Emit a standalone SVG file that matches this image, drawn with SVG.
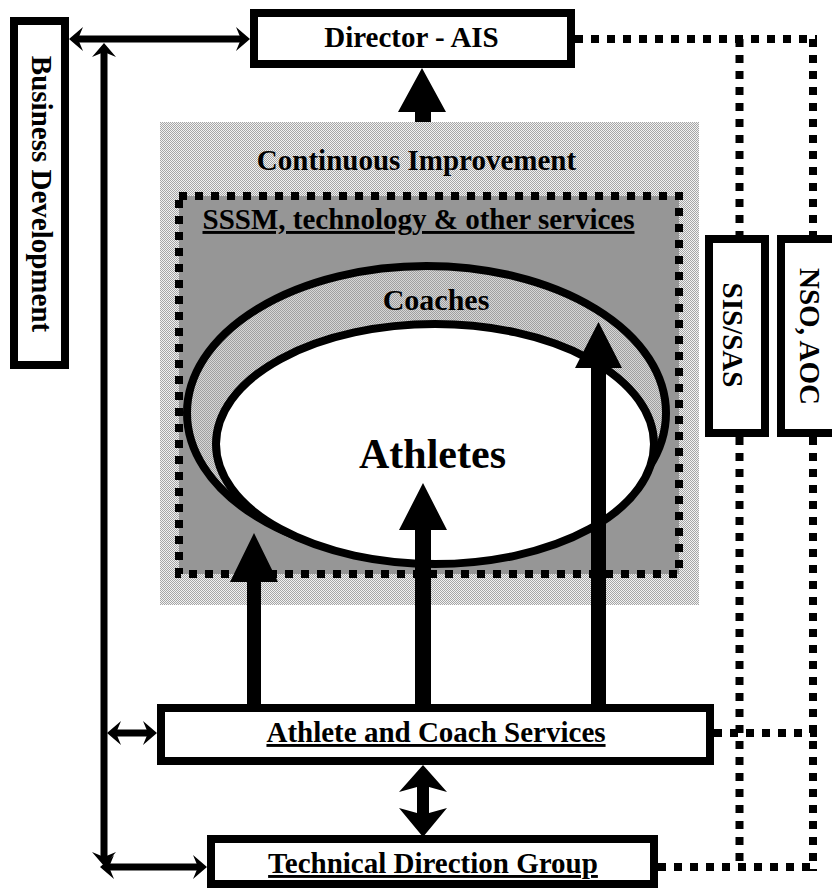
<svg xmlns="http://www.w3.org/2000/svg" width="832" height="891" viewBox="0 0 832 891">
<style>
.t{font-family:"Liberation Serif","Times New Roman",serif;font-weight:bold;font-size:29px;fill:#000;text-anchor:middle}
.u{text-decoration:underline}
.box{fill:#fff;stroke:#000;stroke-width:8}
.dot{fill:none;stroke:#000;stroke-width:8;stroke-dasharray:8 8}
.ln{fill:none;stroke:#000;stroke-width:7;marker-start:url(#ah);marker-end:url(#ah)}
.blk{fill:#000}
</style>
<defs>
<pattern id="stip" width="2" height="2" patternUnits="userSpaceOnUse">
<rect width="2" height="2" fill="#f2f2f2"/><rect width="1" height="1" fill="#a6a6a6"/><rect x="1" y="1" width="1" height="1" fill="#a6a6a6"/>
</pattern>
<pattern id="stip2" width="2" height="2" patternUnits="userSpaceOnUse">
<rect width="2" height="2" fill="#d6d6d6"/><rect width="1" height="1" fill="#a0a0a0"/><rect x="1" y="1" width="1" height="1" fill="#a0a0a0"/>
</pattern>
<marker id="ah" markerUnits="userSpaceOnUse" orient="auto-start-reverse" refX="0" refY="0" markerWidth="40" markerHeight="40" viewBox="-20 -20 40 40" overflow="visible">
<path d="M6,0 L-8,-12 L-3,0 L-8,12 Z" fill="#000"/>
</marker>
</defs>
<rect width="832" height="891" fill="#fff"/>

<g id="continuous-improvement">
<rect x="160" y="122" width="539" height="483" fill="url(#stip)"/>
<text class="t" x="416.5" y="170">Continuous Improvement</text>
</g>

<g id="sssm">
<rect x="179" y="196" width="500" height="378" class="dot" style="fill:#969696"/>
<text class="t u" x="418.5" y="229">SSSM, technology &amp; other services</text>
</g>

<g id="coaches">
<ellipse cx="426.5" cy="413" rx="239.5" ry="147" fill="url(#stip2)" stroke="#000" stroke-width="8"/>
<text class="t" x="436" y="310" style="font-size:30px">Coaches</text>
</g>

<g id="athletes">
<ellipse cx="435" cy="444" rx="219" ry="120" fill="#fff" stroke="#000" stroke-width="8"/>
<text class="t" x="432.5" y="468" style="font-size:42px">Athletes</text>
</g>

<g id="director">
<rect class="box" x="254" y="13" width="317" height="51"/>
<text class="t" x="411.5" y="47">Director - AIS</text>
</g>

<g id="business-development">
<rect class="box" x="14" y="21" width="51" height="344"/>
<text class="t" transform="translate(32,194) rotate(90)">Business Development</text>
</g>

<g id="sis-sas">
<rect class="box" x="709" y="239" width="56" height="194"/>
<text class="t" transform="translate(723,335) rotate(90)">SIS/SAS</text>
</g>

<g id="nso-aoc">
<rect class="box" x="781" y="239" width="64" height="194"/>
<text class="t" transform="translate(800,336.5) rotate(90)">NSO, AOC</text>
</g>

<g id="athlete-coach-services">
<rect class="box" x="161" y="708" width="549" height="53"/>
<text class="t u" x="436" y="742">Athlete and Coach Services</text>
</g>

<g id="technical-direction-group">
<rect class="box" x="211" y="839" width="443" height="45"/>
<text class="t u" x="433" y="873">Technical Direction Group</text>
</g>

<g id="connectors">
<polygon class="blk" points="415,122 415,112 398,112 422,68 446,112 431,112 431,122"/>
<polygon class="blk" points="247,704 247,582 230,582 254,533 278,582 261,582 261,704"/>
<polygon class="blk" points="415,704 415,530 399,530 423,483 447,530 431,530 431,704"/>
<polygon class="blk" points="591,704 591,368 575,368 598.5,322 622,368 606,368 606,704"/>
<polygon class="blk" points="423,765 447,792 429,787 429,813 447,808 423,837 399,808 417,813 417,787 399,792"/>
<path class="ln" d="M75,39 H244"/>
<path class="ln" d="M104,49 V860"/>
<path class="ln" d="M113,733 H151"/>
<path class="ln" d="M106,867 H201"/>
<path class="dot" d="M575,39 H817"/>
<path class="dot" d="M739.5,39 V235"/>
<path class="dot" d="M813,39 V235"/>
<path class="dot" d="M739.5,437 V867"/>
<path class="dot" d="M813,437 V871"/>
<path class="dot" d="M714,733 H817"/>
<path class="dot" d="M658,867 H817"/>
</g>
</svg>
